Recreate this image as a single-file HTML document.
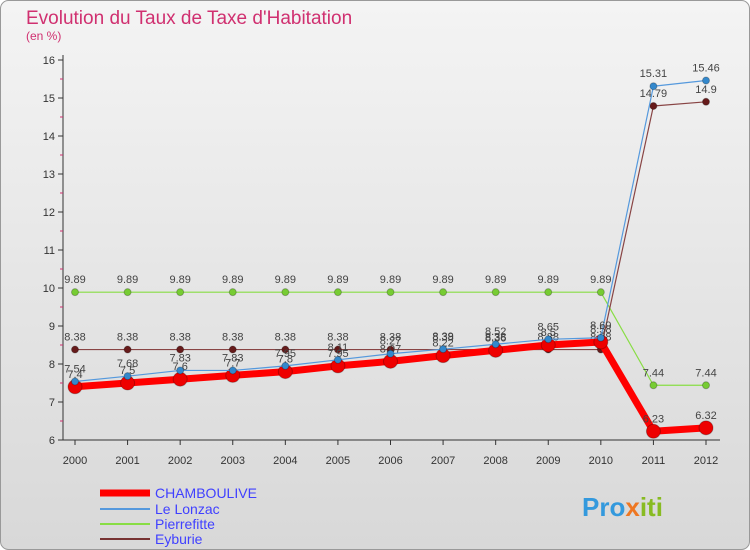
<!DOCTYPE html>
<html><head><meta charset="utf-8"><style>
body{margin:0;background:#fff}
svg{display:block;font-family:"Liberation Sans",sans-serif}
</style></head><body>
<svg id="c" width="750" height="550">
<defs><linearGradient id="bg" x1="0" y1="0" x2="0" y2="1"><stop offset="0" stop-color="#f4f4f4"/><stop offset="1" stop-color="#d8d8d8"/></linearGradient></defs>
<rect x="0.5" y="0.5" width="749" height="549" rx="8" fill="url(#bg)" stroke="#999"/>
<text x="26" y="24" font-size="19" fill="#d03070">Evolution du Taux de Taxe d'Habitation</text>
<text x="26" y="40" font-size="12" fill="#d03070">(en %)</text>
<g id="axes"></g><g id="series"></g>
<g>
<line x1="100" y1="493" x2="150" y2="493" stroke="#ff0000" stroke-width="7"/>
<text x="155" y="498" font-size="14" fill="#4040ff">CHAMBOULIVE</text>
<line x1="100" y1="509" x2="150" y2="509" stroke="#5599dd" stroke-width="2"/>
<text x="155" y="514" font-size="14" fill="#4040ff">Le Lonzac</text>
<line x1="100" y1="524" x2="150" y2="524" stroke="#88dd44" stroke-width="2"/>
<text x="155" y="529" font-size="14" fill="#4040ff">Pierrefitte</text>
<line x1="100" y1="539" x2="150" y2="539" stroke="#773333" stroke-width="2"/>
<text x="155" y="544" font-size="14" fill="#4040ff">Eyburie</text>
</g>
<text x="582" y="516" font-size="26" font-weight="bold" fill="#3399dd">Pro<tspan fill="#ee7722">x</tspan><tspan fill="#88bb22">iti</tspan></text>
</svg>
<script>
const years=[2000,2001,2002,2003,2004,2005,2006,2007,2008,2009,2010,2011,2012];
const yTicks=[6,7,8,9,10,11,12,13,14,15,16];
const chamboulive=[7.4,7.5,7.6,7.7,7.8,7.95,8.07,8.22,8.36,8.5,8.58,6.23,6.32];
const lonzac=[7.54,7.68,7.83,7.83,7.95,8.11,8.27,8.39,8.52,8.65,8.69,15.31,15.46];
const pierrefitte=[9.89,9.89,9.89,9.89,9.89,9.89,9.89,9.89,9.89,9.89,9.89,7.44,7.44];
const eyburie=[8.38,8.38,8.38,8.38,8.38,8.38,8.38,8.38,8.38,8.38,8.38,14.79,14.9];
const NS="http://www.w3.org/2000/svg";
const X=i=>75+i*(706-75)/(years.length-1);
const Y=v=>440-(v-6)*38;
function mk(t,a,p){const e=document.createElementNS(NS,t);for(const k in a)e.setAttribute(k,a[k]);p.appendChild(e);return e;}
const ax=document.getElementById('axes'),sg=document.getElementById('series');
let l=mk('line',{x1:63,y1:55,x2:63,y2:440,stroke:'#333'},ax);


l=mk('line',{x1:63,y1:440,x2:720,y2:440,stroke:'#333'},ax);


yTicks.forEach(v=>{
 const tk=mk('line',{x1:58,y1:Y(v),x2:63,y2:Y(v),stroke:'#333'},ax);
 
 
 if(v<16){const m=mk('line',{x1:60,y1:Y(v+0.5),x2:63,y2:Y(v+0.5),stroke:'#d03070'},ax);
 
 }
 const t=mk('text',{x:55,y:Y(v)+4,'font-size':11,'text-anchor':'end',fill:'#333'},ax);t.textContent=v;
 
 
});
years.forEach((y,i)=>{
 const tk=mk('line',{x1:X(i),y1:440,x2:X(i),y2:445,stroke:'#333'},ax);
 
 
 const t=mk('text',{x:X(i),y:464,'font-size':11,'text-anchor':'middle',fill:'#333'},ax);t.textContent=y;
 
 
});
function draw(vals,name,col,w,r,dot){
 const g=mk('g',{},sg);
 
 
 const p=mk('polyline',{points:vals.map((v,i)=>X(i)+','+Y(v)).join(' '),fill:'none',stroke:col,'stroke-width':w,'stroke-linejoin':'round'},g);
 
 
 vals.forEach((v,i)=>{
  const c=mk('circle',{cx:X(i),cy:Y(v),r:r,fill:dot,stroke:'rgba(0,0,0,0.25)'},g);
  
  
  const t=mk('text',{x:X(i),y:Y(v)-9,'font-size':11,'text-anchor':'middle',fill:'#444'},g);t.textContent=v;
  
  
 });
}
draw(pierrefitte,'pierrefitte','#88dd44',1.2,3.5,'#77cc33');
draw(eyburie,'eyburie','#884444',1.2,3.5,'#661a1a');
draw(chamboulive,'chamboulive','#ff0000',7,7,'#ee0000');
draw(lonzac,'le-lonzac','#5599dd',1.2,3.5,'#3388cc');
</script>
</body></html>
